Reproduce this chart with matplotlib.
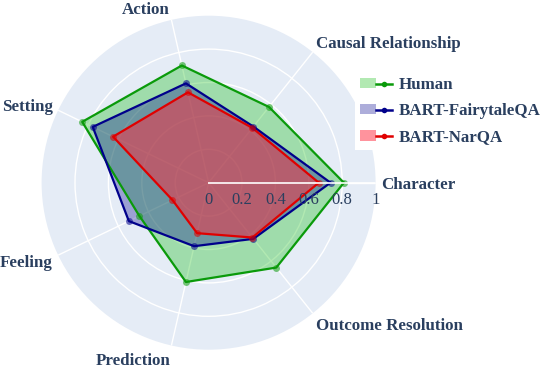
import numpy as np
import matplotlib
matplotlib.use("Agg")
import matplotlib.pyplot as plt
from matplotlib.patches import Patch
from matplotlib.lines import Line2D
from matplotlib.legend_handler import HandlerTuple

plt.rcParams['font.family'] = ['Liberation Serif', 'DejaVu Serif']

categories = ["Character", "Causal Relationship", "Action", "Setting",
              "Feeling", "Prediction", "Outcome Resolution"]
series_names = ["Human", "BART-FairytaleQA", "BART-NarQA"]
human = [0.81, 0.58, 0.72, 0.84, 0.46, 0.61, 0.65]
fairytale = [0.73, 0.43, 0.61, 0.77, 0.53, 0.39, 0.43]
narqa = [0.66, 0.42, 0.555, 0.635, 0.24, 0.31, 0.42]
radial_ticks = [0, 0.2, 0.4, 0.6, 0.8, 1]

line_colors = ["#0a9a0a", "#00008b", "#e00000"]
fill_colors = [(0.0, 0.72, 0.0, 0.30), (0.0, 0.0, 0.55, 0.32), (1.0, 0.16, 0.24, 0.50)]
text_color = "#2a3f5f"

W, H, dpi = 540, 368, 100
cx, cy, R = 208.6, 182.7, 167.0
fig = plt.figure(figsize=(W / dpi, H / dpi), dpi=dpi)
ax = fig.add_axes([(cx - R) / W, (H - cy - R) / H, 2 * R / W, 2 * R / H],
                  projection='polar')
ax.set_facecolor("#E5ECF6")
ax.set_theta_zero_location('E')
ax.set_theta_direction(1)
ax.set_ylim(0, 1)

n = len(categories)
theta = np.arange(n) * 2 * np.pi / n
ax.set_xticks(theta)
ax.set_xticklabels([])
ax.set_yticks(radial_ticks[1:-1])
ax.set_yticklabels([])
ax.grid(True, color="white", linewidth=1.0)
ax.spines['polar'].set_visible(False)
ax.set_axisbelow(True)
ax.tick_params(length=0)

data = [human, fairytale, narqa]
handles = []
for vals, lc, fc, name in zip(data, line_colors, fill_colors, series_names):
    t = np.append(theta, theta[0])
    v = np.append(vals, vals[0])
    ax.fill(t, v, color=fc[:3], alpha=fc[3], linewidth=0, zorder=2)
    ax.plot(t, v, color=lc, linewidth=1.6, zorder=3)
    ax.plot(theta, vals, 'o', color=lc, markersize=5, alpha=0.55, markeredgewidth=0, zorder=4)
    handles.append((Patch(facecolor=fc[:3], alpha=fc[3], edgecolor='none'),
                    Line2D([], [], color=lc, linewidth=1.8, marker='o', markersize=4,
                           markerfacecolor=lc, markeredgewidth=0)))

# radial axis line above traces
ax.plot([0, 0], [0, 1], color="white", linewidth=1.4, alpha=0.85, zorder=5)
for v in radial_ticks:
    ax.annotate(f"{v:g}", xy=(0, v), xytext=(0, -17), textcoords='offset pixels',
                ha='center', va='center', fontsize=12, color=text_color, zorder=6)

for ang, lab in zip(theta, categories):
    c, s = np.cos(ang), np.sin(ang)
    ha = 'left' if c > 0.05 else ('right' if c < -0.05 else 'center')
    k = 6.5 if s >= 0 else 8.0
    ax.annotate(lab, xy=(ang, 1.0), xytext=(6 * c, 6 * s + k * s - 2),
                textcoords='offset pixels', ha=ha, va='center',
                fontsize=12.2, fontweight='bold', color=text_color,
                annotation_clip=False)

leg = fig.legend(handles, series_names, handler_map={tuple: HandlerTuple(ndivide=None, pad=0)},
                 loc='upper left', bbox_to_anchor=(355 / W, 1 - 72 / H),
                 frameon=True, facecolor='white', edgecolor='none', fancybox=False,
                 framealpha=1, fontsize=12.2, handlelength=1.9, handleheight=0.55,
                 handletextpad=0.36, labelspacing=0.6, borderpad=0.3, borderaxespad=0)
for txt in leg.get_texts():
    txt.set_color(text_color)
    txt.set_fontweight('bold')

fig.savefig("out.png", dpi=dpi)
